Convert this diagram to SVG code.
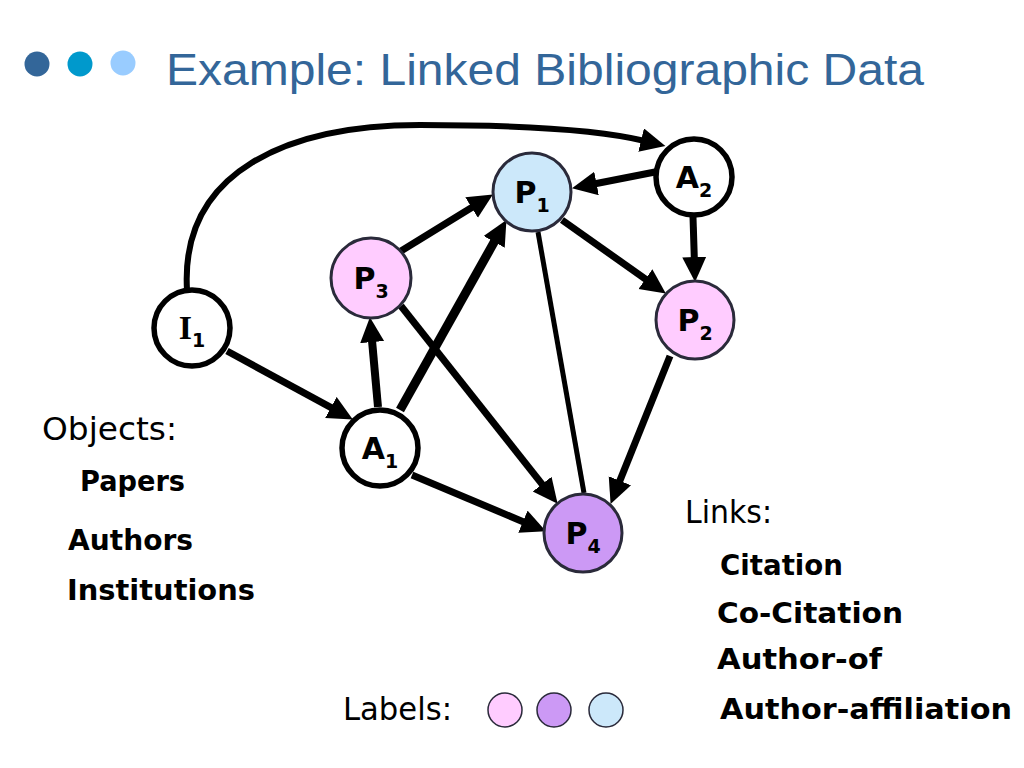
<svg xmlns="http://www.w3.org/2000/svg" width="1024" height="768" viewBox="0 0 1024 768">
<style>
.t{font-family:"DejaVu Sans","Noto Sans",sans-serif;fill:#000}
.b{font-weight:bold}
.e{stroke:#000;stroke-width:7;fill:none;marker-end:url(#ah)}
.wn{fill:#fff;stroke:#000;stroke-width:5.5}
.pn{stroke:#2a2a3a;stroke-width:3}
.lab{font-family:"DejaVu Sans","Noto Sans",sans-serif;font-weight:bold;font-size:30px;text-anchor:middle}
.sub{font-size:19px}
</style>
<defs>
<marker id="ah" markerUnits="userSpaceOnUse" markerWidth="28" markerHeight="26" refX="4" refY="12" orient="auto">
<path d="M0,0 L25,12 L0,24 z" fill="#000"/>
</marker>
</defs>
<rect width="1024" height="768" fill="#fff"/>
<g id="title">
<circle cx="37" cy="64" r="12.5" fill="#336699"/>
<circle cx="80" cy="64" r="12.5" fill="#0099CC"/>
<circle cx="123" cy="63" r="12.5" fill="#99CCFF"/>
<text x="166" y="85" font-family="Liberation Sans,Arial,sans-serif" font-size="45" fill="#336699" textLength="758" lengthAdjust="spacingAndGlyphs">Example: Linked Bibliographic Data</text>
</g>
<g id="connectors">
<path class="e" d="M187,290 C180,170 290,125 420,125 C530,125 600,130 645,141" style="stroke-width:6"/>
<line class="e" x1="227" y1="351" x2="334.4" y2="409.4"/>
<line class="e" x1="378" y1="407" x2="371.8" y2="338.1" style="stroke-width:8"/>
<line class="e" x1="400" y1="410" x2="496.2" y2="238.4" style="stroke-width:9"/>
<line class="e" x1="401" y1="251" x2="475" y2="205.5"/>
<line class="e" x1="655" y1="172" x2="592.6" y2="184.2"/>
<line class="e" x1="693" y1="217" x2="694.4" y2="261"/>
<line class="e" x1="562" y1="220" x2="648.7" y2="281.4"/>
<line x1="538" y1="232" x2="584" y2="493" stroke="#000" stroke-width="5"/>
<line class="e" x1="401" y1="306" x2="544.6" y2="487.3"/>
<line class="e" x1="670" y1="356" x2="618.4" y2="484.4"/>
<line class="e" x1="412" y1="475" x2="526.6" y2="523.2"/>
</g>
<g id="P1"><circle class="pn" cx="532" cy="192" r="39" fill="#CCE8FA"/><text class="lab" x="532" y="203">P<tspan class="sub" dy="9">1</tspan></text></g>
<g id="A2"><circle class="wn" cx="694" cy="177" r="38"/><text class="lab" x="694" y="188">A<tspan class="sub" dy="9">2</tspan></text></g>
<g id="P3"><circle class="pn" cx="371" cy="278" r="40" fill="#FFCCFF"/><text class="lab" x="371" y="289">P<tspan class="sub" dy="9">3</tspan></text></g>
<g id="P2"><circle class="pn" cx="695" cy="320" r="39" fill="#FFCCFF"/><text class="lab" x="695" y="331">P<tspan class="sub" dy="9">2</tspan></text></g>
<g id="I1"><circle class="wn" cx="192" cy="328" r="38"/><text class="lab" x="192" y="339" style="font-family:'Liberation Serif',serif;font-size:34px">I<tspan class="sub" dy="8" style="font-family:'DejaVu Sans',sans-serif;font-size:19px">1</tspan></text></g>
<g id="A1"><circle class="wn" cx="380" cy="448" r="38"/><text class="lab" x="380" y="459">A<tspan class="sub" dy="9">1</tspan></text></g>
<g id="P4"><circle class="pn" cx="583" cy="533" r="39" fill="#CC99F5"/><text class="lab" x="583" y="544">P<tspan class="sub" dy="9">4</tspan></text></g>
<g id="objects">
<text class="t" x="42" y="440" font-size="32" textLength="135" lengthAdjust="spacingAndGlyphs">Objects:</text>
<text class="t b" x="80" y="491" font-size="29" textLength="105" lengthAdjust="spacingAndGlyphs">Papers</text>
<text class="t b" x="68" y="550" font-size="29" textLength="125" lengthAdjust="spacingAndGlyphs">Authors</text>
<text class="t b" x="67" y="600" font-size="29" textLength="188" lengthAdjust="spacingAndGlyphs">Institutions</text>
</g>
<g id="links">
<text class="t" x="685" y="523" font-size="32" textLength="87" lengthAdjust="spacingAndGlyphs">Links:</text>
<text class="t b" x="720" y="575" font-size="29" textLength="123" lengthAdjust="spacingAndGlyphs">Citation</text>
<text class="t b" x="717" y="623" font-size="29" textLength="186" lengthAdjust="spacingAndGlyphs">Co-Citation</text>
<text class="t b" x="717" y="669" font-size="29" textLength="165" lengthAdjust="spacingAndGlyphs">Author-of</text>
<text class="t b" x="720" y="719" font-size="29" textLength="292" lengthAdjust="spacingAndGlyphs">Author-affiliation</text>
</g>
<g id="labels">
<text class="t" x="343" y="720" font-size="32" textLength="109" lengthAdjust="spacingAndGlyphs">Labels:</text>
<circle cx="505" cy="710" r="17" fill="#FFCCFF" stroke="#2a2a3a" stroke-width="1.5"/>
<circle cx="554" cy="710" r="17" fill="#CC99F5" stroke="#2a2a3a" stroke-width="1.5"/>
<circle cx="606" cy="710" r="17" fill="#CCE8FA" stroke="#2a2a3a" stroke-width="1.5"/>
</g>
</svg>
